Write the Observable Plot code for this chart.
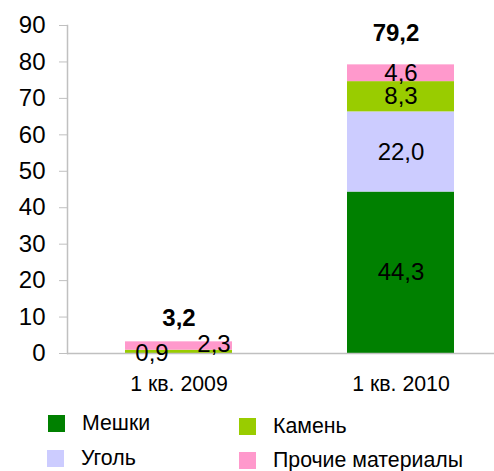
<!DOCTYPE html>
<html><head><meta charset="utf-8">
<script src="https://cdn.jsdelivr.net/npm/d3@7"></script>
<script src="https://cdn.jsdelivr.net/npm/@observablehq/plot@0.6"></script>
<style>
body{margin:0;background:#fff;font-family:"Liberation Sans",Arial,sans-serif;}
#wrap{position:relative;width:494px;height:471px;overflow:hidden;}
#wrap svg{position:absolute;left:0;top:0;}
.leg{position:absolute;display:flex;align-items:center;font-size:21.3px;color:#000;white-space:nowrap;line-height:1;}
.sw{width:17px;height:17px;margin-right:17px;flex:none;}
</style></head><body><div id="wrap"></div>
<script>
const categories = ["1 кв. 2009", "1 кв. 2010"];
const series = ["Мешки", "Уголь", "Камень", "Прочие материалы"];
const meshki = [0, 44.3];
const ugol = [0, 22.0];
const kamen = [0.9, 8.3];
const prochie = [2.3, 4.6];
const totals = [3.2, 79.2];
const yTicks = [0, 10, 20, 30, 40, 50, 60, 70, 80, 90];
const colors = ["#008000", "#CCCCFF", "#99CC00", "#FF99CC"];

const valuesBySeries = [meshki, ugol, kamen, prochie];
const rows = [];
series.forEach((s, i) => categories.forEach((c, j) => rows.push({s, c, v: valuesBySeries[i][j]})));
const totalRows = categories.map((c, j) => ({c, t: totals[j]}));
const fmt = v => d3.format(".1f")(v).replace(".", ",");
const nz = rows.filter(d => d.v > 0);

const font = {fontFamily: "'Liberation Sans', Arial, sans-serif", fontSize: "21.3px"};
const big = 24;

const chart = Plot.plot({
  width: 494,
  height: 405,
  marginTop: 25,
  marginBottom: 52,
  marginLeft: 67,
  marginRight: 0,
  style: {...font, color: "black", background: "white"},
  x: {domain: categories, range: [67, 511], paddingInner: 0.52, paddingOuter: 0.26, axis: null},
  y: {domain: [0, 90], axis: null},
  color: {domain: series, range: colors},
  marks: [
    Plot.barY(rows, {x: "c", y: "v", fill: "s", z: "s"}),
    Plot.frame({anchor: "left", stroke: "#c0c0c0", strokeWidth: 1.5}),
    Plot.ruleY([0], {stroke: "#c0c0c0", strokeWidth: 1.5}),
    Plot.axisY({ticks: yTicks, tickSize: 8, tickPadding: 14, stroke: "#c0c0c0", color: "black", label: null, fontSize: big, tickFormat: d => String(d)}),
    Plot.axisX({tickSize: 0, tickPadding: 22, label: null, color: "black"}),
    Plot.text(nz.filter(d => d.c === categories[1]), Plot.stackY({x: "c", y: "v", z: "s", text: d => fmt(d.v), fill: "black", fontSize: big})),
    Plot.text(nz.filter(d => d.c === categories[0] && d.s === series[2]), Plot.stackY({x: "c", y: "v", z: "s", text: d => fmt(d.v), fill: "black", fontSize: big, dx: -27, dy: 1})),
    Plot.text(nz.filter(d => d.c === categories[0] && d.s === series[3]), Plot.stackY({x: "c", y: "v", z: "s", text: d => fmt(d.v), fill: "black", fontSize: big, dx: 35, dy: -5})),
    Plot.text(totalRows.filter(d => d.c === categories[0]), {x: "c", y: "t", text: d => fmt(d.t), fontWeight: "bold", fontSize: big, dy: -24}),
    Plot.text(totalRows.filter(d => d.c === categories[1]), {x: "c", y: "t", text: d => fmt(d.t), fontWeight: "bold", fontSize: big, dy: -32, dx: -5})
  ]
});
const wrap = document.getElementById("wrap");
wrap.appendChild(chart);

const legPos = [
  {left: 48, top: 413},
  {left: 47, top: 448},
  {left: 239, top: 416},
  {left: 239, top: 450}
];
series.forEach((s, i) => {
  const el = document.createElement("div");
  el.className = "leg";
  el.style.left = legPos[i].left + "px";
  el.style.top = legPos[i].top + "px";
  el.innerHTML = `<div class="sw" style="background:${colors[i]}"></div><span>${s}</span>`;
  wrap.appendChild(el);
});
</script></body></html>
